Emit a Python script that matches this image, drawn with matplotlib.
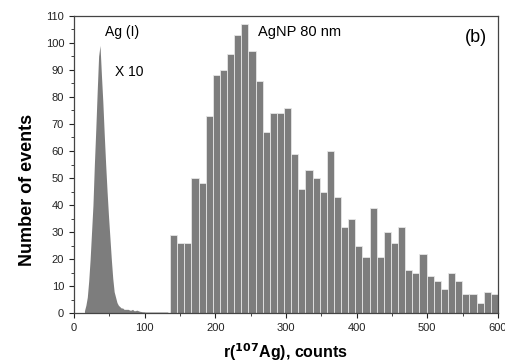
import numpy as np
import matplotlib
matplotlib.use("Agg")
import matplotlib.pyplot as plt
from matplotlib.ticker import MultipleLocator

plt.rcParams['font.family'] = ['Liberation Sans', 'DejaVu Sans']

# Ag(I) ionic background (x10), fine bins of width 2 starting at 14
ionic_start = 14
ionic_width = 2
ionic_counts = [1, 3, 6, 12, 20, 30, 40, 55, 68, 82, 95, 99, 88, 78, 66, 55,
                45, 36, 28, 20, 13, 8, 6, 4, 3, 2.5, 2, 2, 1.5, 1.5, 1.5, 1.5,
                1.2, 1.2, 1.5, 1, 1, 1.2, 1, 0.8, 0.7, 0.6, 0.6, 0.5, 0.5, 0.5,
                0.5, 0.5, 0.5, 0.5, 0.5, 0.5, 0.5, 0.5, 0.5, 0.5, 0.5, 0.5, 0.5, 0.5]

# AgNP 80 nm events
np_start = 136
np_end = 600
np_counts = [29, 26, 26, 50, 48, 73, 88, 90, 96, 103, 107, 97, 86, 67, 74, 74,
             76, 59, 46, 53, 50, 45, 60, 43, 32, 35, 25, 21, 39, 21, 30, 26,
             32, 16, 15, 22, 14, 12, 9, 15, 12, 7, 7, 4, 8, 7]

fig = plt.figure(figsize=(5.06, 3.64), dpi=100)
ax = fig.add_axes([0.146, 0.139, 0.838, 0.818])

bar_color = '#7d7d7d'

# ionic peak: bins are ~1.4 px wide, so draw it as a filled area through bin centres
ionic_centres = ionic_start + ionic_width * (np.arange(len(ionic_counts)) + 0.5)
ax.fill_between(ionic_centres, ionic_counts, color=bar_color, linewidth=0)

# nanoparticle histogram
np_edges = np.linspace(np_start, np_end, len(np_counts) + 1)
ax.bar(np_edges[:-1], np_counts, width=np.diff(np_edges), align='edge',
       color=bar_color, edgecolor='#e6e6e6', linewidth=0.6)

ax.set_xlim(0, 600)
ax.set_ylim(0, 110)
ax.xaxis.set_major_locator(MultipleLocator(100))
ax.xaxis.set_minor_locator(MultipleLocator(50))
ax.yaxis.set_major_locator(MultipleLocator(10))
ax.yaxis.set_minor_locator(MultipleLocator(5))
ax.tick_params(which='both', direction='out', labelsize=8, colors='#222222')
ax.tick_params(which='major', length=3.5, width=0.8)
ax.tick_params(which='minor', length=2, width=0.6)

for sp in ax.spines.values():
    sp.set_color('#444444')
    sp.set_linewidth(0.9)

ax.set_xlabel(r'r($^{\mathbf{107}}$Ag), counts', fontsize=11.5, fontweight='bold')
ax.set_ylabel('Number of events', fontsize=13, fontweight='bold')
ax.xaxis.set_label_coords(0.5, -0.095)
ax.yaxis.set_label_coords(-0.09, 0.415)

ax.text(44, 104, 'Ag (I)', fontsize=10, va='center', ha='left')
ax.text(58, 89, 'X 10', fontsize=10, va='center', ha='left')
ax.text(260, 104, 'AgNP 80 nm', fontsize=10.5, va='center', ha='left')
ax.text(584, 102, '(b)', fontsize=13, va='center', ha='right')

fig.savefig('out.png', dpi=100)
